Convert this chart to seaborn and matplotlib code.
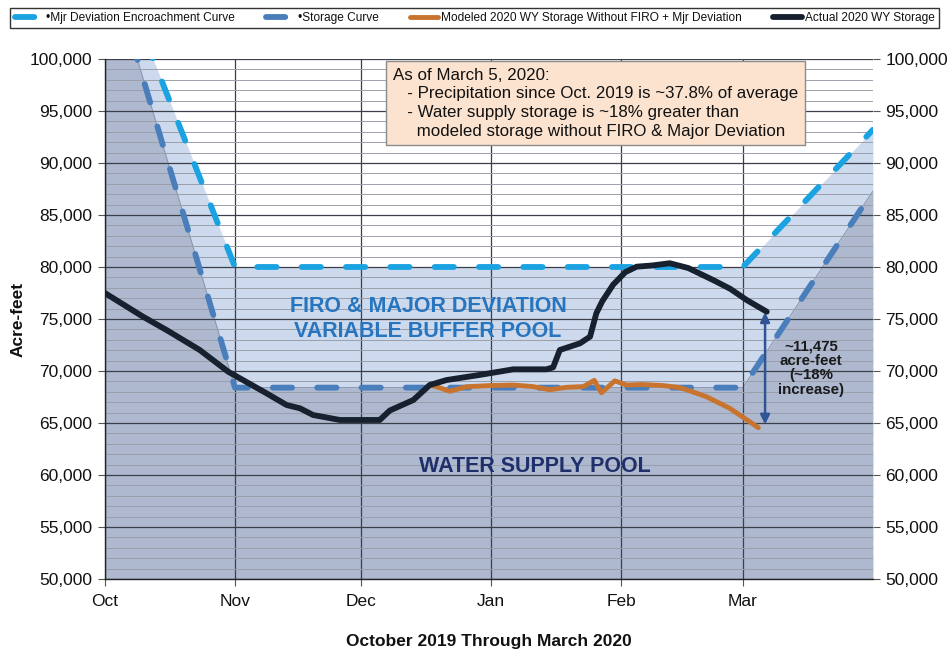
import matplotlib
matplotlib.use("Agg")
import matplotlib.pyplot as plt
import seaborn as sns
import numpy as np
import pandas as pd
from matplotlib.ticker import MultipleLocator, FuncFormatter

# ---------------- data (day offset from Oct 1, 2019; acre-feet) ----------------
month_ticks = [0, 31, 61, 92, 123, 152]
month_labels = ["Oct", "Nov", "Dec", "Jan", "Feb", "Mar"]

curve_days = [0, 31, 152, 183]
storage_curve = [110500, 68400, 68400, 87300]
encroach_curve = [111800, 80000, 80000, 93200]

actual_days = [0, 9.1, 14.7, 22.6, 29.4, 38.5, 43.3, 46.5, 49.6, 56, 60.8, 65.5,
               67.9, 73.5, 77.4, 81.4, 89.3, 97.3, 105.2, 106.8, 108.4, 113.2,
               115.6, 117.1, 118.5, 121.1, 124.0, 126.7, 130.5, 134.6, 139.0,
               144.9, 149.0, 152.9, 157.7]
actual_vals = [77500, 75220, 73940, 72020, 69930, 67860, 66730, 66410, 65770,
               65290, 65290, 65290, 66200, 67210, 68650, 69130, 69620, 70160,
               70160, 70350, 72020, 72660, 73300, 75550, 76700, 78300, 79500,
               80030, 80150, 80360, 79900, 78750, 77900, 76830, 75700]

model_days = [77.4, 79.0, 82.2, 86.2, 92.0, 97.3, 102.0, 106.0, 110.0, 114.0,
              116.6, 118.3, 121.5, 124.3, 128.0, 133.0, 137.0, 140.0, 143.3,
              148.9, 155.7]
model_vals = [68650, 68490, 68050, 68490, 68600, 68650, 68500, 68200, 68430,
              68500, 69100, 67900, 69050, 68650, 68700, 68600, 68400, 68000,
              67530, 66410, 64550]

legend_labels = ["\u2022Mjr Deviation Encroachment Curve", "\u2022Storage Curve",
                 "Modeled 2020 WY Storage Without FIRO + Mjr Deviation",
                 "Actual 2020 WY Storage"]

note_lines = ["As of March 5, 2020:",
              "   - Precipitation since Oct. 2019 is ~37.8% of average",
              "   - Water supply storage is ~18% greater than",
              "     modeled storage without FIRO & Major Deviation"]
diff_text = "~11,475\nacre-feet\n(~18%\nincrease)"

# ---------------- styling ----------------
sns.set_style("white")
plt.rcParams["font.family"] = ["Liberation Sans", "DejaVu Sans"]
plt.rcParams["text.color"] = "#111111"
plt.rcParams["axes.labelcolor"] = "#111111"
plt.rcParams["xtick.color"] = "#111111"
plt.rcParams["ytick.color"] = "#111111"

c_light = "#1aa3e0"
c_storage = "#4a7ebb"
c_orange = "#c8742f"
c_black = "#17202e"

fig = plt.figure(figsize=(9.53, 6.54), dpi=100)
ax = fig.add_axes([0.110, 0.1147, 0.806, 0.7951])

curves = pd.DataFrame({"day": curve_days, "storage": storage_curve,
                       "encroach": encroach_curve})
actual = pd.DataFrame({"day": actual_days, "val": actual_vals})
model = pd.DataFrame({"day": model_days, "val": model_vals})

# fills
ax.fill_between(curves["day"], 50000, curves["storage"], color="#aeb9cf",
                zorder=1, lw=0)
ax.fill_between(curves["day"], curves["storage"], curves["encroach"],
                color="#cdd9ed", zorder=1, lw=0)
ax.plot(curves["day"], curves["storage"], color="#8a97b3", lw=0.8, zorder=1.2)

dash = (0, (3.3, 4.3))
# lines
sns.lineplot(data=curves, x="day", y="encroach", ax=ax, color=c_light, lw=4.2,
             label=legend_labels[0], zorder=3,
             linestyle=dash, dash_capstyle="round")
sns.lineplot(data=curves, x="day", y="storage", ax=ax, color=c_storage, lw=4.2,
             label=legend_labels[1], zorder=3,
             linestyle=dash, dash_capstyle="round")
sns.lineplot(data=model, x="day", y="val", ax=ax, color=c_orange, lw=3.5,
             label=legend_labels[2], zorder=4, solid_capstyle="round")
sns.lineplot(data=actual, x="day", y="val", ax=ax, color=c_black, lw=4.2,
             label=legend_labels[3], zorder=5, solid_capstyle="round")

ax.set_xlim(0, 183)
ax.set_ylim(50000, 100000)
ax.set_xticks(month_ticks)
ax.set_xticklabels(month_labels)
ax.yaxis.set_major_locator(MultipleLocator(5000))
ax.yaxis.set_minor_locator(MultipleLocator(1000))
ax.yaxis.set_major_formatter(FuncFormatter(lambda v, p: f"{int(v):,}"))

ax.grid(True, which="major", axis="both", color="#3a3f4a", lw=0.9, zorder=1.5)
ax.grid(True, which="minor", axis="y", color="#9aa0aa", lw=0.7, zorder=1.5)
ax.set_axisbelow("line")

for s in ["top", "right"]:
    ax.spines[s].set_visible(False)
for s in ["left", "bottom"]:
    ax.spines[s].set_color("#222222")
    ax.spines[s].set_linewidth(1.0)

ax.tick_params(axis="y", which="major", left=True, right=True, labelleft=True,
               labelright=True, direction="out", length=5, color="#555555",
               labelcolor="#111111", labelsize=12.5, pad=4)
ax.tick_params(axis="y", which="minor", left=False, right=False)
ax.tick_params(axis="x", which="major", bottom=True, direction="out", length=5,
               color="#555555", labelcolor="#111111", labelsize=12.5, pad=6)

ax.set_xlabel("October 2019 Through March 2020", fontsize=12.5,
              fontweight="bold", labelpad=18)
ax.set_ylabel("Acre-feet", fontsize=12.5, fontweight="bold", labelpad=3)

# pool labels
ax.text(77, 75000, "FIRO & MAJOR DEVIATION\nVARIABLE BUFFER POOL",
        ha="center", va="center", fontsize=15.5, fontweight="bold",
        color="#2675be", linespacing=1.2, zorder=6)
ax.text(102.5, 60800, "WATER SUPPLY POOL", ha="center", va="center",
        fontsize=15.5, fontweight="bold", color="#1f2f6b", zorder=6)

# note box
ax.text(68.6, 99150, "\n".join(note_lines), ha="left", va="top", fontsize=12.2,
        color="#111111", linespacing=1.3, zorder=7,
        bbox=dict(boxstyle="square,pad=0.4", facecolor="#fbe3d0",
                  edgecolor="#8c8c8c", lw=1.0))

# difference arrow
ax.annotate("", xy=(157.3, 64600), xytext=(157.3, 75900),
            arrowprops=dict(arrowstyle="<|-|>", color="#2f5597", lw=1.8,
                            mutation_scale=14), zorder=6)
ax.text(168.3, 70300, diff_text, ha="center", va="center", fontsize=10.8,
        fontweight="bold", color="#1a1a1a", linespacing=1.05, zorder=6)

# legend
handles, labels = ax.get_legend_handles_labels()
ax.get_legend().remove()
leg = fig.legend(handles, labels, loc="upper center",
                 bbox_to_anchor=(0.498, 0.997), ncol=4, frameon=True,
                 fancybox=False, edgecolor="#000000", handlelength=2.4,
                 columnspacing=2.6, handletextpad=0.25, borderpad=0.35,
                 prop={"size": 8.6})
leg.get_frame().set_linewidth(1.0)

fig.savefig("out.png", dpi=100)
